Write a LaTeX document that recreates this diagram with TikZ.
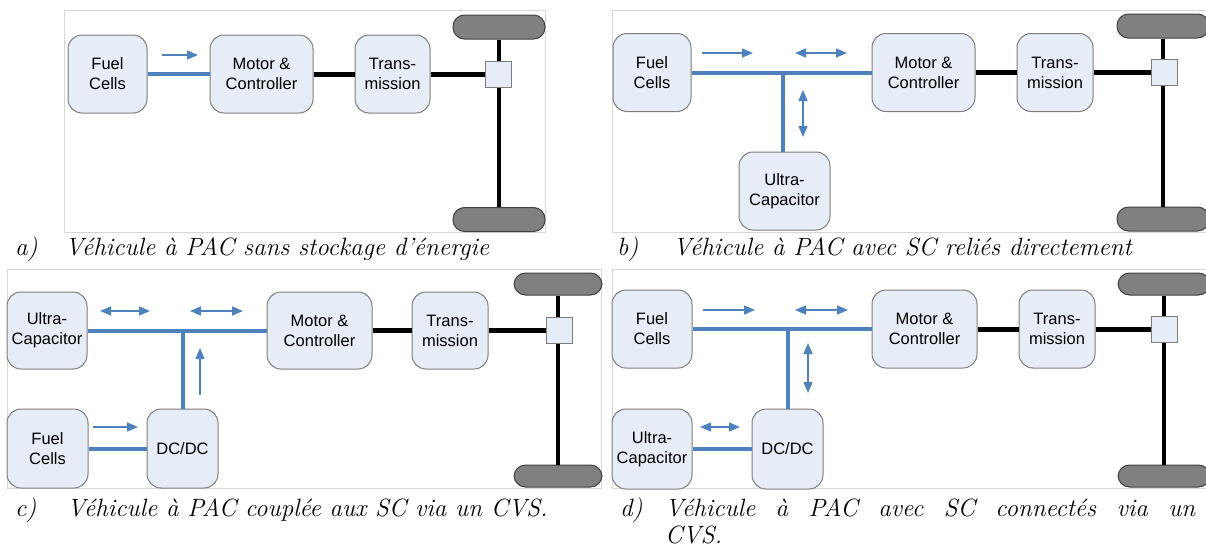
\documentclass[tikz,border=0pt]{standalone}
\usepackage{fontspec}
\usepackage{tikz}
\usetikzlibrary{arrows.meta}
\newfontfamily\boxfont{Liberation Sans}
\definecolor{busblue}{RGB}{79,129,189}
\definecolor{boxfill}{RGB}{231,237,247}
\definecolor{boxline}{RGB}{125,125,125}
\definecolor{wheelgray}{RGB}{128,128,128}
\definecolor{framegray}{RGB}{215,215,215}
\tikzset{
  unitbox/.style={draw=boxline, fill=boxfill, line width=1pt, rounded corners=14pt, align=center, inner sep=0pt, minimum height=78pt, font=\boxfont\fontsize{16.5}{20}\selectfont},
  wheel/.style={draw=black!75, fill=wheelgray, line width=1pt, rounded corners=11.5pt, minimum width=92pt, minimum height=24pt, inner sep=0pt},
  diffbox/.style={draw=boxline, fill=boxfill, line width=1pt, minimum size=26pt, inner sep=0pt},
  bus/.style={busblue, line width=4pt},
  shaft/.style={black, line width=5pt},
  axle/.style={black, line width=3.5pt},
  flow/.style={busblue, line width=1.5pt, -{Triangle[length=11pt,width=9pt]}},
  bothflow/.style={busblue, line width=1.5pt, {Triangle[length=11pt,width=9pt]}-{Triangle[length=11pt,width=9pt]}},
  panel/.style={draw=framegray, line width=0.8pt},
  captxt/.style={anchor=base west, inner sep=0pt, font=\itshape\fontsize{25}{30}\selectfont}
}
\begin{document}
\begin{tikzpicture}[x=1pt,y=-1pt]
    \useasboundingbox (0,0) rectangle (1206,557);
    \draw[panel] (64,10) rectangle (545,232);
    \draw[panel] (612,10) rectangle (1206,232);
    \draw[panel] (7,269) rectangle (601,488);
    \draw[panel] (612,269) rectangle (1206,488);

    \node[unitbox, minimum width=79pt] (fca) at (107.5,74) {Fuel\\Cells};
    \node[unitbox, minimum width=103pt] (mca) at (261.5,74) {Motor \&\\Controller};
    \node[unitbox, minimum width=75pt] (tra) at (392.5,74) {Trans-\\mission};
    \node[wheel] (wta) at (499,27) {};
    \node[wheel] (wba) at (499,219.5) {};
    \draw[axle] (wta) -- (wba);
    \node[diffbox] (dfa) at (498.5,74) {};
    \draw[bus] (fca) -- (mca);
    \draw[shaft] (mca) -- (tra);
    \draw[shaft] (tra) -- (dfa);
    \coordinate (fa1) at (162,55);
    \coordinate (fa2) at (198,55);
    \draw[flow] (fa1) -- (fa2);

    \node[unitbox, minimum width=78pt] (fcb) at (652,72.5) {Fuel\\Cells};
    \node[unitbox, minimum width=103pt] (mcb) at (923.5,72.5) {Motor \&\\Controller};
    \node[unitbox, minimum width=76pt] (trb) at (1055,72.5) {Trans-\\mission};
    \node[unitbox, minimum width=91pt] (ucb) at (784.5,191) {Ultra-\\Capacitor};
    \node[wheel] (wtb) at (1163,26) {};
    \node[wheel] (wbb) at (1163,219) {};
    \draw[axle] (wtb) -- (wbb);
    \node[diffbox] (dfb) at (1164,72.5) {};
    \coordinate (jb) at (783,72.5);
    \draw[bus] (fcb) -- (mcb);
    \draw[bus] (jb) -- (jb |- ucb.north);
    \draw[shaft] (mcb) -- (trb);
    \draw[shaft] (trb) -- (dfb);
    \coordinate (fb1) at (702,53);
    \coordinate (fb2) at (753,53);
    \coordinate (fb3) at (795,53);
    \coordinate (fb4) at (847,53);
    \coordinate (fb5) at (803,90);
    \coordinate (fb6) at (803,137);
    \draw[flow] (fb1) -- (fb2);
    \draw[bothflow] (fb3) -- (fb4);
    \draw[bothflow] (fb5) -- (fb6);

    \node[unitbox, minimum width=80pt, minimum height=77pt] (ucc) at (47,330.5) {Ultra-\\Capacitor};
    \node[unitbox, minimum width=105pt, minimum height=77pt] (mcc) at (319.5,330.5) {Motor \&\\Controller};
    \node[unitbox, minimum width=76pt, minimum height=77pt] (trc) at (450,330.5) {Trans-\\mission};
    \node[unitbox, minimum width=81pt, minimum height=79pt] (fcc) at (47.5,448.5) {Fuel\\Cells};
    \node[unitbox, minimum width=71pt, minimum height=79pt] (dcc) at (182.5,448.5) {DC/DC};
    \node[wheel, minimum width=88pt, minimum height=22pt] (wtc) at (558,284) {};
    \node[wheel, minimum width=88pt, minimum height=22pt] (wbc) at (558,476) {};
    \draw[axle] (wtc) -- (wbc);
    \node[diffbox] (dfc) at (559,330.5) {};
    \coordinate (jc) at (182.5,330.5);
    \draw[bus] (ucc) -- (mcc);
    \draw[bus] (jc) -- (dcc);
    \draw[bus] (fcc) -- (dcc);
    \draw[shaft] (mcc) -- (trc);
    \draw[shaft] (trc) -- (dfc);
    \coordinate (fc1) at (100,311);
    \coordinate (fc2) at (150,311);
    \coordinate (fc3) at (190,311);
    \coordinate (fc4) at (243,311);
    \coordinate (fc5) at (200,395);
    \coordinate (fc6) at (200,348);
    \coordinate (fc7) at (93,427);
    \coordinate (fc8) at (138,427);
    \draw[bothflow] (fc1) -- (fc2);
    \draw[bothflow] (fc3) -- (fc4);
    \draw[flow] (fc5) -- (fc6);
    \draw[flow] (fc7) -- (fc8);

    \node[unitbox, minimum width=80pt] (fcd) at (652,329) {Fuel\\Cells};
    \node[unitbox, minimum width=105pt] (mcd) at (924.5,329) {Motor \&\\Controller};
    \node[unitbox, minimum width=76pt] (trd) at (1057,329) {Trans-\\mission};
    \node[unitbox, minimum width=80pt, minimum height=80pt] (ucd) at (652,449) {Ultra-\\Capacitor};
    \node[unitbox, minimum width=71pt, minimum height=80pt] (dcd) at (787.5,449) {DC/DC};
    \node[wheel, minimum height=22pt] (wtd) at (1164,284) {};
    \node[wheel, minimum height=22pt] (wbd) at (1164,476) {};
    \draw[axle] (wtd) -- (wbd);
    \node[diffbox] (dfd) at (1164.5,329) {};
    \coordinate (jd) at (787.5,329);
    \draw[bus] (fcd) -- (mcd);
    \draw[bus] (jd) -- (dcd);
    \draw[bus] (ucd) -- (dcd);
    \draw[shaft] (mcd) -- (trd);
    \draw[shaft] (trd) -- (dfd);
    \coordinate (fd1) at (703,310);
    \coordinate (fd2) at (755,310);
    \coordinate (fd3) at (795,310);
    \coordinate (fd4) at (848,310);
    \coordinate (fd5) at (808,343);
    \coordinate (fd6) at (808,393);
    \coordinate (fd7) at (700,427);
    \coordinate (fd8) at (740,427);
    \draw[flow] (fd1) -- (fd2);
    \draw[bothflow] (fd3) -- (fd4);
    \draw[bothflow] (fd5) -- (fd6);
    \draw[bothflow] (fd7) -- (fd8);

    \node[captxt] (laba) at (15,255) {a)};
    \node[captxt] (capa) at (65,255) {Véhicule à PAC sans stockage d’énergie};
    \node[captxt] (labb) at (617,255) {b)};
    \node[captxt] (capb) at (673,255) {Véhicule à PAC avec SC reliés directement};
    \node[captxt] (labc) at (15,516) {c)};
    \node[captxt] (capc) at (67,516) {Véhicule à PAC couplée aux SC via un CVS.};
    \node[captxt] (labd) at (620,516) {d)};
    \node[captxt] (capd) at (665,516) {\makebox[530pt][s]{Véhicule à PAC avec SC connectés via un}};
    \node[captxt] (capd2) at (665,543) {CVS.};
\end{tikzpicture}
\end{document}
